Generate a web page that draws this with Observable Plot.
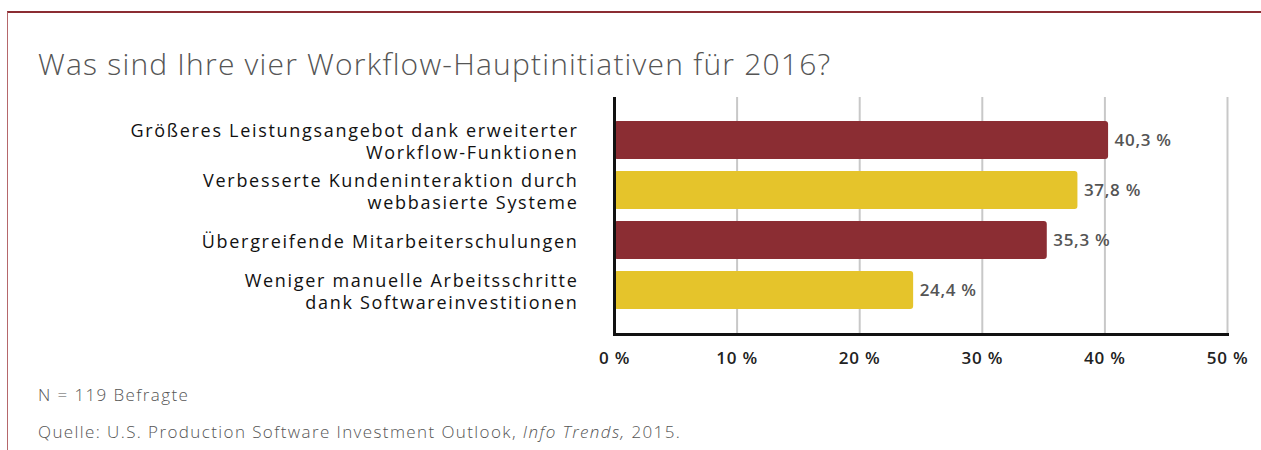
<!DOCTYPE html>
<html>
<head>
<meta charset="utf-8">
<script src="https://cdn.jsdelivr.net/npm/d3@7"></script>
<script src="https://cdn.jsdelivr.net/npm/@observablehq/plot@0.6"></script>
<style>
  html, body { margin: 0; padding: 0; background: #fff; }
  #wrap { position: relative; width: 1261px; height: 450px; overflow: hidden; font-family: "Open Sans", Lato, sans-serif; }
  #frame { position: absolute; left: 7px; top: 11px; width: 1260px; height: 450px; border-top: 2px solid #8b2d33; border-left: 1px solid #b5676b; box-sizing: border-box; }
  #title { position: absolute; left: 38px; top: 44px; font-size: 30px; line-height: 40px; color: #555; font-weight: 300; white-space: nowrap; letter-spacing: 1.2px; }
  #chart { position: absolute; left: 0; top: 80px; }
  .note { position: absolute; left: 38px; font-weight: 300; font-size: 17px; line-height: 22px; color: #555; white-space: nowrap; letter-spacing: 1.4px; }
</style>
</head>
<body>
<div id="wrap">
  <div id="frame"></div>
  <div id="title">Was sind Ihre vier Workflow-Hauptinitiativen für 2016?</div>
  <div id="chart"></div>
  <div class="note" style="top:384px">N = 119 Befragte</div>
  <div class="note" style="top:421px">Quelle: U.S. Production Software Investment Outlook, <i>Info Trends,</i> 2015.</div>
</div>
<script>
const categories = [
  "Größeres Leistungsangebot dank erweiterter\nWorkflow-Funktionen",
  "Verbesserte Kundeninteraktion durch\nwebbasierte Systeme",
  "Übergreifende Mitarbeiterschulungen",
  "Weniger manuelle Arbeitsschritte\ndank Softwareinvestitionen"
];
const values = [40.3, 37.8, 35.3, 24.4];
const barColors = ["#8b2d33", "#e5c42b", "#8b2d33", "#e5c42b"];
const xTicks = [0, 10, 20, 30, 40, 50];

const data = categories.map((c, i) => ({
  cat: c,
  value: values[i],
  color: barColors[i],
  label: values[i].toFixed(1).replace(".", ",") + " %"
}));

const chart = Plot.plot({
  width: 1261,
  height: 300,
  marginLeft: 614,
  marginRight: 34,
  marginTop: 17,
  marginBottom: 46,
  style: { fontFamily: "'Open Sans', Lato, sans-serif", background: "transparent", overflow: "visible" },
  x: { domain: [0, 50] },
  y: { domain: categories, paddingInner: 0.235, paddingOuter: 0.45, axis: null },
  marks: [
    Plot.gridX(xTicks.slice(1), { stroke: "#c8c8c8", strokeOpacity: 1, strokeWidth: 2 }),
    Plot.barX(data, { x: "value", y: "cat", fill: "color", rx: 3 }),
    Plot.text(data, { x: "value", y: "cat", text: "label", dx: 6, textAnchor: "start", fill: "#555", fontSize: 17, fontWeight: 600 }),
    Plot.text(data, { x: 0, y: "cat", text: "cat", dx: -36, textAnchor: "end", fontSize: 18, lineHeight: 1.22, fill: "#111" }),
    Plot.ruleX([0], { stroke: "#111", strokeWidth: 3 }),
    Plot.frame({ anchor: "bottom", stroke: "#111", strokeWidth: 3 }),
    Plot.axisX(xTicks, { tickSize: 0, tickPadding: 17, tickFormat: d => d + " %", fontSize: 17, fontWeight: 600, fill: "#222", label: null })
  ]
});
const textGroups = chart.querySelectorAll('g[aria-label="text"]');
if (textGroups[0]) textGroups[0].style.letterSpacing = "0.7px";
if (textGroups[1]) textGroups[1].style.letterSpacing = "1.7px";
const tickGroup = chart.querySelector('g[aria-label="x-axis tick label"]');
if (tickGroup) tickGroup.style.letterSpacing = "0.8px";
document.getElementById("chart").appendChild(chart);
</script>
</body>
</html>
